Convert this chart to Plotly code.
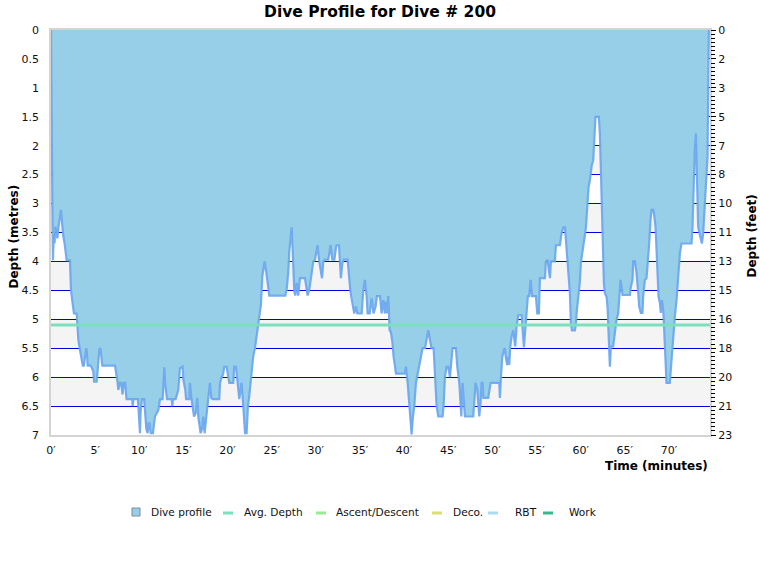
import plotly.graph_objects as go

# ---- data (minutes, metres) ----
time_min = [0.0, 0.05, 0.15, 0.22, 0.3, 0.4, 0.5, 0.6, 0.72, 0.85, 1.0, 1.13, 1.2, 1.3, 1.4, 1.55, 1.7, 1.77,
            2.15, 2.26, 2.45, 2.6, 2.9, 2.98, 3.1, 3.28, 3.47, 3.6, 3.72, 3.85, 4.0, 4.08, 4.15, 4.5, 4.79, 4.88,
            5.17, 5.28, 5.47, 5.6, 5.7, 5.81, 7.25, 7.36, 7.55, 7.62, 7.81, 7.95, 8.1, 8.25, 8.4, 8.55, 9.2, 9.25,
            9.32, 9.85, 9.95, 10.08, 10.15, 10.3, 10.55, 10.7, 10.8, 10.95, 11.05, 11.15, 11.3, 11.55, 11.7, 11.78,
            12.16, 12.35, 12.65, 12.72, 12.84, 12.92, 13.05, 13.14, 13.67, 13.74, 13.82, 14.12, 14.42, 14.6, 14.9,
            15.0, 15.21, 15.3, 15.67, 15.74, 15.9, 16.04, 16.2, 16.4, 16.57, 16.68, 16.8, 16.95, 17.1, 17.25, 17.4,
            17.55, 17.7, 17.85, 18.0, 18.15, 18.3, 19.06, 19.15, 19.33, 19.5, 19.63, 19.9, 20.08, 20.2, 20.65,
            20.75, 20.95, 21.05, 21.22, 21.33, 21.47, 21.59, 21.78, 21.9, 21.98, 22.16, 22.31, 22.46, 22.6, 22.73,
            22.9, 23.1, 23.3, 23.41, 23.6, 23.78, 23.93, 24.06, 24.2, 24.35, 24.5, 24.65, 24.72, 26.54, 26.69,
            26.88, 26.99, 27.1, 27.26, 27.37, 27.45, 27.56, 27.67, 27.82, 28.0, 28.2, 28.77, 28.96, 29.07, 29.26,
            29.45, 29.71, 29.9, 30.09, 30.2, 30.35, 30.58, 30.7, 30.85, 31.03, 31.41, 31.55, 31.67, 31.86, 32.1,
            32.25, 32.35, 32.62, 32.73, 32.84, 33.0, 33.15, 33.6, 33.75, 33.9, 34.0, 34.17, 34.35, 34.55, 34.7,
            35.2, 35.38, 35.56, 35.75, 35.86, 36.1, 36.32, 36.43, 36.54, 36.77, 36.92, 37.26, 37.45, 37.64, 37.83,
            37.94, 38.09, 38.2, 38.36, 38.5, 38.66, 38.81, 38.96, 39.08, 40.09, 40.2, 40.4, 40.58, 40.7, 40.85,
            40.97, 41.15, 41.34, 41.53, 41.72, 41.9, 42.09, 42.36, 42.55, 42.74, 42.93, 43.11, 43.34, 43.49, 43.68,
            43.87, 44.36, 44.47, 44.62, 44.81, 45.0, 45.19, 45.38, 45.49, 45.87, 46.02, 46.25, 46.4, 46.48, 46.62,
            46.78, 46.89, 47.83, 47.94, 48.1, 48.29, 48.4, 48.51, 48.66, 48.78, 48.89, 48.97, 49.53, 49.64, 49.8,
            50.78, 50.85, 50.97, 51.12, 51.3, 51.41, 51.53, 51.68, 51.8, 51.91, 52.02, 52.17, 52.36, 52.47, 52.59,
            52.74, 52.93, 53.31, 53.42, 53.57, 53.72, 53.87, 54.02, 54.17, 54.33, 54.48, 54.93, 55.08, 55.27,
            55.38, 55.95, 56.06, 56.25, 56.4, 56.52, 56.63, 57.08, 57.2, 57.65, 57.84, 58.03, 58.22, 58.33, 58.48,
            58.63, 58.78, 58.89, 59.01, 59.35, 59.46, 59.57, 59.72, 59.91, 60.02, 60.2, 60.36, 60.51, 60.6, 60.78,
            60.9, 61.05, 61.23, 61.42, 61.53, 61.68, 62.06, 62.17, 62.29, 62.36, 62.48, 62.63, 62.74, 62.93, 63.04,
            63.16, 63.23, 63.31, 63.42, 63.68, 63.87, 64.06, 64.25, 64.36, 64.52, 64.63, 64.74, 65.57, 65.68,
            65.87, 65.95, 66.14, 66.33, 66.52, 66.63, 66.82, 67.0, 67.08, 67.27, 67.46, 67.65, 67.76, 67.91, 68.03,
            68.22, 68.33, 68.48, 68.59, 68.71, 68.82, 68.97, 69.08, 69.2, 69.35, 69.46, 69.57, 69.65, 69.72, 70.1,
            70.22, 70.33, 70.48, 70.67, 70.86, 70.97, 71.12, 71.24, 71.42, 72.56, 72.67, 72.82, 72.93, 73.05,
            73.12, 73.2, 73.31, 73.5, 73.73, 73.88, 74.0, 74.14, 74.25, 74.37, 74.45, 74.52]

depth_m = [0.0, 1.7, 3.0, 3.98, 3.6, 3.69, 3.4, 3.51, 3.6, 3.4, 3.2, 3.11, 3.25, 3.45, 3.57, 3.7, 3.85, 3.98,
           3.98, 4.49, 4.73, 4.9, 4.9, 5.07, 5.36, 5.53, 5.7, 5.8, 5.8, 5.6, 5.5, 5.6, 5.8, 5.8, 5.9, 6.08,
           6.08, 5.9, 5.53, 5.5, 5.7, 5.8, 5.8, 5.9, 6.1, 6.22, 6.1, 6.1, 6.3, 6.1, 6.1, 6.38, 6.38, 6.5,
           6.38, 6.38, 6.7, 6.97, 6.6, 6.38, 6.38, 6.7, 6.9, 6.97, 6.8, 6.8, 6.97, 6.97, 6.7, 6.68,
           6.57, 6.38, 6.38, 6.1, 5.83, 6.1, 6.3, 6.38, 6.38, 6.5, 6.38, 6.38, 6.22, 5.85, 5.82,
           6.05, 6.22, 6.38, 6.38, 6.1, 6.36, 6.5, 6.68, 6.62, 6.36, 6.68, 6.8, 6.97, 6.9, 6.68, 6.97,
           6.75, 6.5, 6.36, 6.1, 6.36, 6.38, 6.38, 6.1, 6.0, 5.95, 5.82, 5.82, 6.0, 6.1, 6.1,
           5.82, 5.82, 6.0, 6.22, 6.38, 6.22, 6.1, 6.5, 6.8, 6.97, 6.97, 6.5, 6.33, 6.1, 5.82,
           5.65, 5.5, 5.3, 5.12, 4.93, 4.75, 4.26, 4.09, 4.0, 4.15, 4.29, 4.49, 4.59, 4.59, 4.49,
           4.18, 3.83, 3.6, 3.41, 3.8, 4.32, 4.52, 4.59, 4.37, 4.59, 4.29, 4.29, 4.49, 4.59, 4.49,
           4.25, 4.0, 3.97, 3.8, 3.72, 3.97, 4.2, 4.29, 4.0, 3.97, 3.97, 3.8, 3.72, 3.97, 3.97,
           3.8, 3.72, 3.72, 4.06, 4.29, 4.04, 3.97, 3.97, 4.29, 4.49, 4.6, 4.75, 4.9, 4.78, 4.9,
           4.9, 4.49, 4.32, 4.6, 4.9, 4.9, 4.64, 4.78, 4.9, 4.78, 4.6, 4.6, 4.9, 4.67, 4.9,
           4.7, 4.9, 4.6, 5.19, 5.22, 5.38, 5.65, 5.82, 5.94, 5.94, 5.82, 6.1, 6.5, 6.68, 6.99,
           6.73, 6.5, 6.1, 5.94, 5.82, 5.65, 5.5, 5.5, 5.36, 5.19, 5.36, 5.5, 5.5, 6.0, 6.5,
           6.68, 6.68, 6.5, 6.0, 5.82, 5.82, 6.0, 5.65, 5.5, 5.5, 5.82, 6.1, 6.5, 6.68, 6.1,
           6.4, 6.68, 6.68, 6.5, 6.1, 6.22, 6.4, 6.68, 6.45, 6.1, 6.1, 6.36, 6.36, 6.22, 6.1,
           6.1, 6.36, 6.0, 5.65, 5.53, 5.5, 5.67, 5.79, 5.65, 5.79, 5.47, 5.3, 5.19, 5.36, 5.47,
           5.12, 4.93, 4.93, 5.19, 5.48, 5.19, 4.9, 4.6, 4.6, 4.32, 4.6, 4.6, 4.9, 4.9,
           4.29, 4.29, 4.0, 3.97, 4.15, 4.29, 4.0, 4.0, 3.72, 3.72, 3.51, 3.41, 3.41, 3.63, 4.0,
           4.29, 4.55, 5.07, 5.19, 5.19, 5.07, 4.84, 4.6, 4.35, 4.03, 3.86, 3.69, 3.51, 3.4, 2.99,
           2.71, 2.6, 2.36, 2.25, 1.79, 1.5, 1.5, 1.79, 2.42, 2.94, 3.86, 4.38, 4.55, 4.61, 4.78,
           5.24, 5.53, 5.82, 5.47, 5.47, 5.24, 5.01, 4.9, 4.61, 4.32, 4.44, 4.58, 4.58, 4.44,
           4.32, 4.0, 4.0, 4.2, 4.55, 4.78, 4.89, 4.89, 4.61, 4.32, 4.29, 3.97, 3.69, 3.28, 3.11,
           3.11, 3.2, 3.4, 3.86, 4.38, 4.61, 4.72, 4.89, 4.67, 4.84, 5.18, 5.59, 5.82, 6.1, 6.1,
           5.82, 5.59, 5.24, 4.95, 4.67, 4.44, 4.15, 3.86, 3.69, 3.69, 3.4, 2.36, 2.07, 1.79,
           2.25, 2.94, 3.4, 3.54, 3.69, 3.51, 3.17, 2.88, 2.36, 2.19, 1.0, 0.0]

avg_depth_m = 5.1
time_end = 74.65

x_tick_vals = [0, 5, 10, 15, 20, 25, 30, 35, 40, 45, 50, 55, 60, 65, 70]
x_tick_text = ["0′", "5′", "10′", "15′", "20′", "25′", "30′", "35′", "40′", "45′", "50′", "55′", "60′", "65′", "70′"]
m_tick_vals = [0, 0.5, 1, 1.5, 2, 2.5, 3, 3.5, 4, 4.5, 5, 5.5, 6, 6.5, 7]
m_tick_text = ["0", "0.5", "1", "1.5", "2", "2.5", "3", "3.5", "4", "4.5", "5", "5.5", "6", "6.5", "7"]
ft_tick_text = ["0", "2", "3", "5", "7", "8", "10", "11", "13", "15", "16", "18", "20", "21", "23"]

legend_names = ["Dive profile", "Avg. Depth", "Ascent/Descent", "Deco.", "RBT", "Work"]
legend_colors = ["#97cfe9", "#7be0bb", "#98ea98", "#dcdf72", "#a9dcf4", "#3cb68c"]

FONT = "DejaVu Sans"

# plot-area geometry in pixels (layout only)
PL, PR, PT, PB = 51, 710, 30, 435
PW, PH = PR - PL, PB - PT


def px_x(px):
    return (px - PL) / PW


def px_y(py):
    return (PB - py) / PH


fig = go.Figure()

fig.add_trace(go.Scatter(
    x=time_min, y=depth_m, mode="lines", fill="tozeroy", name="Dive profile",
    fillcolor="#97cfe9", line=dict(color="rgba(105,165,238,0.9)", width=2.2),
    showlegend=False))

fig.add_trace(go.Scatter(
    x=[0, time_end], y=[avg_depth_m, avg_depth_m], mode="lines", yaxis="y2", name="Avg. Depth",
    line=dict(color=legend_colors[1], width=3), showlegend=False))

shapes = []
for k in range(7):
    shapes.append(dict(type="rect", xref="paper", x0=0, x1=1, yref="y", y0=k, y1=k + 0.5,
                       fillcolor="#f4f4f4", line=dict(width=0), layer="below"))

# hand-built legend (symbol start px, text start px)
legend_sym_px = [132, 223, 316, 432, 488, 543]
legend_txt_px = [149, 242, 334, 451, 513, 567]
LEG_Y = 512
annotations = []
for i, (nm, col) in enumerate(zip(legend_names, legend_colors)):
    s = legend_sym_px[i]
    if i == 0:
        shapes.append(dict(type="rect", xref="paper", yref="paper",
                           x0=px_x(s), x1=px_x(s + 8), y0=px_y(LEG_Y + 4), y1=px_y(LEG_Y - 4),
                           fillcolor=col, line=dict(color="#7d8c96", width=1)))
    else:
        shapes.append(dict(type="line", xref="paper", yref="paper",
                           x0=px_x(s), x1=px_x(s + 10), y0=px_y(LEG_Y + 1), y1=px_y(LEG_Y + 1),
                           line=dict(color=col, width=3)))
    annotations.append(dict(text=nm, xref="paper", yref="paper", x=px_x(legend_txt_px[i]), xanchor="left",
                            y=px_y(LEG_Y), yanchor="middle", showarrow=False,
                            font=dict(size=10.6, color="#111")))

annotations += [
    dict(text="<b>Time (minutes)</b>", xref="paper", yref="paper", x=1, xanchor="right",
         y=-31 / PH, yanchor="middle", showarrow=False, font=dict(size=12, color="#000")),
    dict(text="<b>Depth (metres)</b>", xref="paper", yref="paper", x=-37 / PW, xanchor="center",
         y=0.49, yanchor="middle", textangle=-90, showarrow=False, font=dict(size=12, color="#000")),
    dict(text="<b>Depth (feet)</b>", xref="paper", yref="paper", x=1 + 42 / PW, xanchor="center",
         y=0.49, yanchor="middle", textangle=-90, showarrow=False, font=dict(size=12, color="#000")),
]

minor_vals = [i * 0.5 / 7 for i in range(0, 99)]

fig.update_layout(
    width=760, height=580,
    margin=dict(l=PL, r=760 - PR, t=PT, b=580 - PB),
    paper_bgcolor="white", plot_bgcolor="white",
    font=dict(family=FONT, size=11, color="#111"),
    showlegend=False,
    title=dict(text="<b>Dive Profile for Dive # 200</b>", x=0.5, xanchor="center",
               y=1 - 12 / 580, yanchor="middle", font=dict(family=FONT, size=15.5, color="#000")),
    shapes=shapes,
    annotations=annotations,
    xaxis=dict(range=[0, time_end], tickmode="array", tickvals=x_tick_vals, ticktext=x_tick_text,
               showgrid=False, zeroline=False, showline=True, linecolor="#d4d4d4", linewidth=1.5,
               mirror=True, ticks="outside", ticklen=4, tickcolor="rgba(0,0,0,0)",
               tickfont=dict(size=11, color="#111")),
    yaxis=dict(range=[7, 0], tickmode="array", tickvals=m_tick_vals, ticktext=m_tick_text,
               showgrid=True, gridcolor="#0000dd", gridwidth=1.3, zeroline=False,
               showline=True, linecolor="#d4d4d4", linewidth=1.5, mirror=True,
               ticks="outside", ticklen=8, tickcolor="rgba(0,0,0,0)",
               tickfont=dict(size=11, color="#111")),
    yaxis2=dict(range=[7, 0], overlaying="y", side="right", anchor="x",
                tickmode="array", tickvals=m_tick_vals, ticktext=ft_tick_text,
                showgrid=False, zeroline=False, showline=False,
                ticks="outside", ticklen=5, tickcolor="#000", tickwidth=1,
                minor=dict(tickvals=minor_vals, ticks="outside", ticklen=4, tickcolor="#000", tickwidth=1),
                tickfont=dict(size=11, color="#111")),
)

fig.write_html("out.html")
